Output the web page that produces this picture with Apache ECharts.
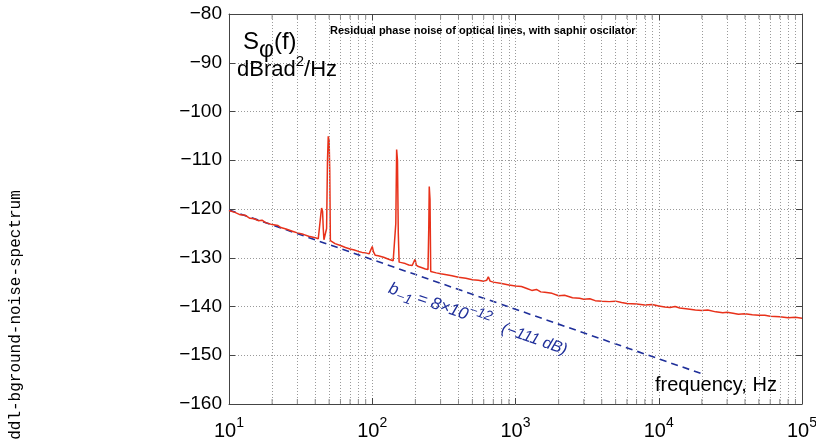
<!DOCTYPE html>
<html><head><meta charset="utf-8">
<script src="https://cdn.jsdelivr.net/npm/echarts@6/dist/echarts.min.js"></script>
<style>html,body{margin:0;padding:0;background:#fff}#c{width:816px;height:443px}</style>
</head><body><div id="c"></div>
<script>
// Measured residual phase noise (red trace)
const freqHz = [10,11,12,13,14,15,16,17,18,20,22,23,25,28,30,33,36,40,42,43,
  43.8,44.3,45,45.5,46,47,48,48.7,49.3,50,50.5,51,52,55,60,65,70,75,80,85,90,95,98,100,102,105,110,120,130,140,144,
  146,148,150,152,154,160,170,180,190,196,199,203,210,220,235,245,248,250,253,256,260,280,300,330,360,400,450,500,550,600,630,646,665,700,800,900,
  1000,1100,1200,1300,1400,1500,1600,1800,2000,2200,2500,2800,3000,3300,3600,4000,4500,5000,5500,6000,7000,8000,9000,
  10000,11000,12000,13000,14000,16000,18000,20000,22000,25000,28000,30000,33000,36000,40000,45000,50000,55000,60000,70000,80000,90000,100000];
const noiseDb = [-120.3,-120.7,-121.2,-121.3,-121.9,-122.0,-122.4,-122.3,-122.8,-123.2,-123.4,-123.8,-124.1,-124.6,-124.9,-125.2,-125.6,-125.9,-126.1,-126.0,
  -121.0,-119.8,-120.5,-124.0,-126.3,-126.5,-124.0,-110.0,-105.1,-106.0,-112.0,-126.5,-126.8,-127.1,-127.5,-127.9,-128.2,-128.4,-128.7,-128.9,-129.0,-129.2,-129.0,-127.7,-128.8,-129.5,-129.6,-129.9,-130.3,-130.6,-130.8,
  -123.0,-107.8,-110.0,-125.0,-130.9,-131.0,-131.2,-131.5,-131.6,-131.6,-130.3,-131.5,-131.8,-132.0,-132.3,-132.4,-124.0,-115.4,-118.0,-132.8,-132.9,-133.1,-133.3,-133.5,-133.7,-134.0,-134.2,-134.5,-134.6,-134.8,-134.6,-133.9,-134.8,-135.0,-135.3,-135.6,
  -135.8,-135.9,-136.3,-136.7,-136.5,-137.0,-137.1,-137.3,-137.8,-137.7,-138.2,-138.3,-138.5,-138.4,-138.8,-138.9,-139.0,-138.9,-139.2,-139.4,-139.5,-139.7,-139.6,
  -139.9,-140.1,-140.2,-140.0,-140.3,-140.5,-140.7,-140.8,-140.7,-141.1,-141.3,-141.2,-141.4,-141.6,-141.5,-141.7,-141.8,-141.8,-142.0,-142.1,-142.3,-142.2,-142.4];
// b_-1 / f fit line (blue dashed)
const fitFreqHz = [10, 20000];
const fitDb = [-120.2, -153.8];
// axis ticks
const yMin = -160, yMax = -80, yStep = 10;
const xMin = 10, xMax = 100000;
const minorMult = [2,3,4,5,6,7,8,9];
const decades = [10,100,1000,10000];

const minorFreqs = [];
decades.forEach(d => minorMult.forEach(m => minorFreqs.push(d*m)));

const RED = '#e8311a', BLUE = '#1f2f9a', AX = '#444';
const FONT = 'Liberation Sans';
const minus = v => (v < 0 ? '\u2212' + (-v) : String(v));

const chart = echarts.init(document.getElementById('c'));
const xBase = {
  type: 'log', logBase: 10, min: xMin, max: xMax,
  axisLine: {show: true, lineStyle: {color: AX, width: 1}},
  axisTick: {show: true, inside: true, length: 6, lineStyle: {color: AX}},
  splitLine: {show: false},
  minorTick: {show: false}, minorSplitLine: {show: false}
};
const yBase = {
  type: 'value', min: yMin, max: yMax, interval: yStep,
  axisLine: {show: true, lineStyle: {color: AX, width: 1}},
  axisTick: {show: true, inside: true, length: 6, lineStyle: {color: AX}},
  splitLine: {show: false}
};
chart.setOption({
  animation: false,
  backgroundColor: '#fff',
  grid: {left: 229, right: 14, top: 14, bottom: 39, containLabel: false, outerBoundsMode: 'none', show: false},
  xAxis: [
    Object.assign({}, xBase, {
      position: 'bottom',
      splitLine: {show: true, lineStyle: {color: '#9a9a9a', type: [1, 2], width: 1}},
      axisLabel: {
        margin: 12, color: '#000',
        formatter: v => '{b|10}{s|' + Math.round(Math.log10(v)) + '}',
        rich: {
          b: {fontSize: 20, fontFamily: FONT, color: '#000'},
          s: {fontSize: 14, fontFamily: FONT, color: '#000', padding: [0, 0, 16, 0]}
        }
      }
    }),
    Object.assign({}, xBase, {position: 'top', axisLabel: {show: false}})
  ],
  yAxis: [
    Object.assign({}, yBase, {
      position: 'left',
      splitLine: {show: true, lineStyle: {color: '#9a9a9a', type: [1, 2], width: 1}},
      axisLabel: {margin: 7, color: '#000', fontSize: 19, fontFamily: FONT, formatter: minus}
    }),
    Object.assign({}, yBase, {position: 'right', axisLabel: {show: false}})
  ],
  series: [
    {
      type: 'line', name: 'fit', z: 2, silent: true,
      data: fitFreqHz.map((f, i) => [f, fitDb[i]]),
      showSymbol: false,
      lineStyle: {color: BLUE, width: 1.6, type: [7, 5]},
      markLine: {
        silent: true, symbol: ['none', 'none'], label: {show: false},
        lineStyle: {color: '#9a9a9a', type: [1, 2], width: 1},
        data: minorFreqs.map(f => ({xAxis: f}))
      }
    },
    {
      type: 'scatter', silent: true, z: 1,
      data: minorFreqs.map(f => [f, yMax]),
      symbol: 'rect', symbolSize: [1, 5], symbolOffset: [0, 2.5],
      itemStyle: {color: '#666'}
    },
    {
      type: 'scatter', silent: true, z: 1,
      data: minorFreqs.map(f => [f, yMin]),
      symbol: 'rect', symbolSize: [1, 5], symbolOffset: [0, -2.5],
      itemStyle: {color: '#666'}
    },
    {
      type: 'line', name: 'noise', z: 3, silent: true,
      data: freqHz.map((f, i) => [f, noiseDb[i]]),
      showSymbol: false,
      lineStyle: {color: RED, width: 1.5}
    }
  ],
  graphic: [
    {type: 'text', x: 243, y: 23, z: 10, style: {
      text: '{a|S}{b|φ}{a|(f)}',
      rich: {
        a: {fontSize: 24, fontFamily: FONT, fill: '#000'},
        b: {fontSize: 23, fontFamily: FONT, fill: '#000', padding: [16, 0, 0, 0]}
      }
    }},
    {type: 'text', x: 237, y: 54, z: 10, style: {
      text: '{a|dBrad}{s|2}{a|/Hz}',
      rich: {
        a: {fontSize: 22, fontFamily: FONT, fill: '#000'},
        s: {fontSize: 15, fontFamily: FONT, fill: '#000', padding: [0, 0, 16, 0]}
      }
    }},
    {type: 'text', x: 330, y: 25, z: 10, style: {
      text: 'Residual phase noise of optical lines, with saphir oscilator',
      fontSize: 11, fontWeight: 'bold', fontFamily: FONT, fill: '#000'
    }},
    {type: 'text', x: 655, y: 375, z: 10, style: {
      text: 'frequency, Hz', fontSize: 20, fontFamily: FONT, fill: '#000'
    }},
    {type: 'text', x: 389, y: 288, rotation: -0.335, z: 10, style: {
      text: '{i|b}{sub|−1}{i| = 8×10}{sup|−12}',
      verticalAlign: 'middle',
      rich: {
        i: {fontSize: 17, fontStyle: 'italic', fontFamily: FONT, fill: BLUE},
        sub: {fontSize: 14, fontStyle: 'italic', fontFamily: FONT, fill: BLUE, padding: [10, 0, 0, 0]},
        sup: {fontSize: 14, fontStyle: 'italic', fontFamily: FONT, fill: BLUE, padding: [0, 0, 12, 0]}
      }
    }},
    {type: 'text', x: 502, y: 328, rotation: -0.335, z: 10, style: {
      text: '(−111 dB)', verticalAlign: 'middle',
      fontSize: 16, fontStyle: 'italic', fontFamily: FONT, fill: BLUE
    }},
    {type: 'text', x: 16, y: 315, rotation: Math.PI / 2, z: 10, style: {
      text: 'ddl-bground-noise-spectrum', align: 'center', verticalAlign: 'middle',
      fontSize: 16, fontFamily: 'Liberation Mono', fill: '#000'
    }}
  ]
});
</script></body></html>
